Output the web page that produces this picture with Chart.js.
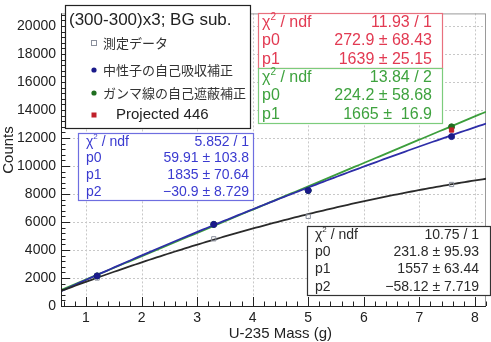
<!DOCTYPE html>
<html>
<head>
<meta charset="utf-8">
<script src="https://cdn.jsdelivr.net/npm/chart.js@4/dist/chart.umd.min.js"></script>
<style>
  html, body { margin: 0; padding: 0; background: #fff; }
  canvas { display: block; }
</style>
</head>
<body>
<canvas id="c" width="491" height="342"></canvas>
<script>
// U-235 mass (g) of each sample
const massX = [1.2, 3.3, 5.0, 7.58];
// Counts: raw measurement and corrected series
const measured = [2000, 4800, 6400, 8680];
const neutronCorr = [2150, 5830, 8250, 12100];
const gammaCorr = [2150, 5830, 8250, 12800];
const projectedX = [7.58];
const projected = [12570];

// Fit parameters (polynomial coefficients p0, p1, p2)
const fitMeasured = [231.8, 1557, -58.12];
const fitNeutron = [59.91, 1835, -30.9];
const fitGamma = [224.2, 1665];

// Axis tick values
const xTicks = [1, 2, 3, 4, 5, 6, 7, 8];
const yTicks = [0, 2000, 4000, 6000, 8000, 10000, 12000, 14000, 16000, 18000, 20000];

const X_MIN = 0.55, X_MAX = 8.2, Y_MIN = 0, Y_MAX = 20900;

const LATIN = '"Liberation Sans", Arial, sans-serif';
const CJK = '"Noto Sans CJK JP", "Noto Sans", sans-serif';

function poly(p, x) {
  let y = 0;
  for (let i = p.length - 1; i >= 0; i--) y = y * x + p[i];
  return y;
}
function curve(p) {
  const pts = [];
  const n = 120;
  for (let i = 0; i <= n; i++) {
    const x = X_MIN + (X_MAX - X_MIN) * i / n;
    pts.push({ x, y: poly(p, x) });
  }
  return pts;
}
const pairs = (xs, ys) => xs.map((x, i) => ({ x, y: ys[i] }));

const COL = {
  black: '#2a2a2a',
  blueLine: '#2e2ea8',
  blueDot: '#1a1a8a',
  greenLine: '#3c9e3c',
  greenDot: '#1f6e1f',
  redDot: '#c0202a',
  meas: '#8a8f9c'
};

const lineDS = (p, color, order) => ({
  type: 'line', data: curve(p), borderColor: color, borderWidth: 1.8,
  pointRadius: 0, fill: false, tension: 0, order
});

const datasets = [
  { type: 'scatter', data: pairs(projectedX, projected), pointStyle: 'rect', pointRadius: 3,
    backgroundColor: COL.redDot, borderColor: COL.redDot, order: 1 },
  { type: 'scatter', data: pairs(massX, neutronCorr), pointStyle: 'circle', pointRadius: 3,
    backgroundColor: COL.blueDot, borderColor: COL.blueDot, order: 2 },
  { type: 'scatter', data: pairs(massX, gammaCorr), pointStyle: 'circle', pointRadius: 3,
    backgroundColor: COL.greenDot, borderColor: COL.greenDot, order: 3 },
  { type: 'scatter', data: pairs(massX, measured), pointStyle: 'rect', pointRadius: 3,
    backgroundColor: 'rgba(255,255,255,0)', borderColor: COL.meas, borderWidth: 1, order: 4 },
  lineDS(fitMeasured, COL.black, 5),
  lineDS(fitNeutron, COL.blueLine, 6),
  lineDS(fitGamma, COL.greenLine, 7)
];

// Grid, frame and inward ticks in ROOT style
const framePlugin = {
  id: 'frame',
  beforeDatasetsDraw(chart) {
    const { ctx, chartArea: a, scales: { x, y } } = chart;
    ctx.save();
    ctx.strokeStyle = '#c8c8c8';
    ctx.lineWidth = 1;
    ctx.setLineDash([2, 2]);
    xTicks.forEach(v => {
      const px = Math.round(x.getPixelForValue(v)) + 0.5;
      ctx.beginPath(); ctx.moveTo(px, a.top); ctx.lineTo(px, a.bottom); ctx.stroke();
    });
    yTicks.forEach(v => {
      if (v === 0) return;
      const py = Math.round(y.getPixelForValue(v)) + 0.5;
      ctx.beginPath(); ctx.moveTo(a.left, py); ctx.lineTo(a.right, py); ctx.stroke();
    });
    ctx.setLineDash([]);
    ctx.strokeStyle = '#9a9a9a';
    ctx.strokeRect(a.left + 0.5, a.top + 0.5, a.right - a.left - 1, a.bottom - a.top);
    ctx.restore();
  },
  afterDatasetsDraw(chart) {
    const { ctx, chartArea: a, scales: { x, y } } = chart;
    ctx.save();
    ctx.strokeStyle = '#222';
    ctx.lineWidth = 1;
    // axes
    ctx.beginPath();
    ctx.moveTo(a.left + 0.5, a.top); ctx.lineTo(a.left + 0.5, a.bottom + 0.5);
    ctx.lineTo(a.right, a.bottom + 0.5);
    ctx.stroke();
    // x ticks (major 1, minor 0.2)
    for (let k = Math.ceil(X_MIN / 0.2); k * 0.2 <= X_MAX + 1e-9; k++) {
      const v = k * 0.2;
      const major = Math.abs(v - Math.round(v)) < 1e-6;
      const px = Math.round(x.getPixelForValue(v)) + 0.5;
      ctx.beginPath(); ctx.moveTo(px, a.bottom); ctx.lineTo(px, a.bottom - (major ? 9 : 4.5)); ctx.stroke();
    }
    // y ticks (major 2000, minor 400)
    for (let v = 0; v <= Y_MAX; v += 400) {
      const major = v % 2000 === 0;
      const py = Math.round(y.getPixelForValue(v)) + 0.5;
      ctx.beginPath(); ctx.moveTo(a.left, py); ctx.lineTo(a.left + (major ? 9 : 4.5), py); ctx.stroke();
    }
    ctx.restore();
  },
  afterDraw(chart) {
    const { ctx } = chart;
    ctx.save();
    // axis titles
    ctx.fillStyle = '#222';
    ctx.font = `15px ${LATIN}`;
    ctx.textAlign = 'right';
    ctx.textBaseline = 'middle';
    ctx.fillText('U-235 Mass (g)', 332, 334);
    ctx.save();
    ctx.translate(9, 150);
    ctx.rotate(-Math.PI / 2);
    ctx.textAlign = 'center';
    ctx.fillText('Counts', 0, 0);
    ctx.restore();

    // legend
    box(ctx, 65, 5, 185, 123, '#222', '#fff');
    ctx.fillStyle = '#222';
    ctx.textAlign = 'left';
    ctx.font = `17px ${LATIN}`;
    ctx.fillText('(300-300)x3; BG sub.', 69, 20);
    const mx = 94;
    ctx.strokeStyle = COL.meas; ctx.lineWidth = 1;
    ctx.strokeRect(mx - 2.5, 43 - 2.5, 5, 5);
    ctx.fillStyle = COL.blueDot;
    ctx.beginPath(); ctx.arc(mx, 70, 2.6, 0, Math.PI * 2); ctx.fill();
    ctx.fillStyle = COL.greenDot;
    ctx.beginPath(); ctx.arc(mx, 93, 2.6, 0, Math.PI * 2); ctx.fill();
    ctx.fillStyle = COL.redDot;
    ctx.fillRect(mx - 2.5, 115 - 2.5, 5, 5);
    ctx.fillStyle = '#333';
    ctx.font = `13px ${CJK}`;
    ctx.fillText('測定データ', 103, 43);
    ctx.fillText('中性子の自己吸収補正', 103, 70);
    ctx.fillText('ガンマ線の自己遮蔽補正', 103, 93);
    ctx.fillStyle = '#222';
    ctx.font = `15px ${LATIN}`;
    ctx.fillText('Projected 446', 116, 115);

    // fit statistics boxes
    stat(ctx, 258, 13, 184, 55, '#e8707e', '#e23a52', 16, 4, 10,
      [['11.93 / 1'], ['p0', '272.9 \u00b1 68.43'], ['p1', '1639 \u00b1 25.15']]);
    stat(ctx, 258, 68, 184, 55, '#7ccc7c', '#3ea23e', 16, 4, 10,
      [['13.84 / 2'], ['p0', '224.2 \u00b1 58.68'], ['p1', '1665 \u00b1  16.9']]);
    stat(ctx, 78, 133, 175, 67, '#6e6ee0', '#3a3ad0', 14, 8, 4,
      [['5.852 / 1'], ['p0', '59.91 \u00b1 103.8'], ['p1', '1835 \u00b1 70.64'], ['p2', '\u221230.9 \u00b1 8.729']]);
    stat(ctx, 307, 226, 183, 69, '#333', '#2a2a2a', 14, 8, 11,
      [['10.75 / 1'], ['p0', '231.8 \u00b1 95.93'], ['p1', '1557 \u00b1 63.44'], ['p2', '\u221258.12 \u00b1 7.719']]);
    ctx.restore();
  }
};

function box(ctx, x, y, w, h, stroke, fill) {
  ctx.fillStyle = fill;
  ctx.fillRect(x, y, w, h);
  ctx.strokeStyle = stroke;
  ctx.lineWidth = 1.2;
  ctx.strokeRect(x + 0.5, y + 0.5, w, h);
}

function stat(ctx, x, y, w, h, border, color, size, padL, padR, rows) {
  box(ctx, x, y, w, h, border, '#fff');
  const step = h / rows.length;
  ctx.fillStyle = color;
  ctx.textBaseline = 'middle';
  rows.forEach((r, i) => {
    const cy = y + step * (i + 0.5) + 0.5;
    ctx.font = `${size}px ${LATIN}`;
    ctx.textAlign = 'left';
    if (i === 0) {
      let cx = x + padL;
      ctx.fillText('\u03c7', cx, cy);
      cx += ctx.measureText('\u03c7').width;
      ctx.font = `${Math.round(size * 0.6)}px ${LATIN}`;
      ctx.fillText('2', cx, cy - size * 0.35);
      cx += ctx.measureText('2').width;
      ctx.font = `${size}px ${LATIN}`;
      ctx.fillText(' / ndf', cx, cy);
      ctx.textAlign = 'right';
      ctx.fillText(r[0], x + w - padR, cy);
    } else {
      ctx.fillText(r[0], x + padL, cy);
      ctx.textAlign = 'right';
      ctx.fillText(r[1], x + w - padR, cy);
    }
  });
}

new Chart(document.getElementById('c'), {
  data: { datasets },
  options: {
    responsive: false,
    animation: false,
    layout: { padding: { left: 0, top: 5, right: 2, bottom: 0 } },
    plugins: { legend: { display: false }, tooltip: { enabled: false } },
    scales: {
      x: {
        type: 'linear', min: X_MIN, max: X_MAX,
        afterFit: s => { s.height = 36; },
        afterBuildTicks: s => { s.ticks = xTicks.map(v => ({ value: v })); },
        grid: { display: false, drawTicks: false },
        border: { display: false },
        ticks: { font: { family: LATIN, size: 14 }, color: '#222', padding: 4, maxRotation: 0 }
      },
      y: {
        type: 'linear', min: Y_MIN, max: Y_MAX,
        afterFit: s => { s.width = 61; },
        afterBuildTicks: s => { s.ticks = yTicks.map(v => ({ value: v })); },
        grid: { display: false, drawTicks: false },
        border: { display: false },
        ticks: { font: { family: LATIN, size: 14 }, color: '#222', padding: 5,
                 callback: v => String(v) }
      }
    }
  },
  plugins: [framePlugin]
});
</script>
</body>
</html>
